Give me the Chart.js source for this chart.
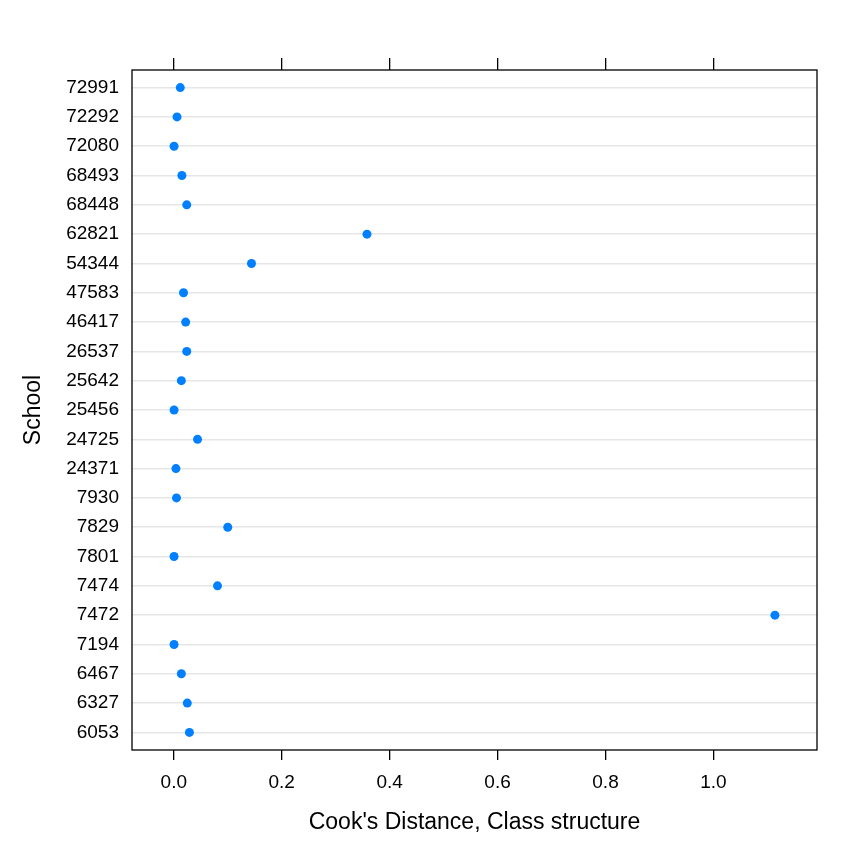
<!DOCTYPE html>
<html>
<head>
<meta charset="utf-8">
<script src="https://cdn.jsdelivr.net/npm/chart.js@4/dist/chart.umd.min.js"></script>
<style>
  html, body { margin: 0; padding: 0; background: #fff; }
  #wrap { width: 864px; height: 864px; }
</style>
</head>
<body>
<div id="wrap"><canvas id="chart"></canvas></div>
<script>
// schools listed bottom to top, as lattice stacks them
const schools = ['6053', '6327', '6467', '7194', '7472', '7474', '7801', '7829', '7930',
  '24371', '24725', '25456', '25642', '26537', '46417', '47583', '54344', '62821',
  '68448', '68493', '72080', '72292', '72991'];
const cooksD = [0.029, 0.025, 0.014, 0.0005, 1.114, 0.081, 0.0005, 0.100, 0.005,
  0.004, 0.044, 0.0005, 0.014, 0.024, 0.022, 0.018, 0.144, 0.358,
  0.024, 0.015, 0.0005, 0.006, 0.012];
const xTicks = [0, 0.2, 0.4, 0.6, 0.8, 1.0];

const FONT = "'Liberation Sans', Arial, Helvetica, sans-serif";

// lattice pads the data range by 7% each side
const lo = Math.min(...cooksD), hi = Math.max(...cooksD);
const xMin = lo - 0.07 * (hi - lo);
const xMax = hi + 0.07 * (hi - lo);

// --- frame around the panel ---
const framePlugin = {
  id: 'frame',
  afterDraw(chart) {
    const { ctx, chartArea: a } = chart;
    ctx.save();
    ctx.strokeStyle = '#000';
    ctx.lineWidth = 1.3;
    ctx.strokeRect(a.left, a.top, a.right - a.left, a.bottom - a.top);
    ctx.restore();
  }
};

const setXTicks = (scale) => { scale.ticks = xTicks.map(v => ({ value: v })); };

new Chart(document.getElementById('chart'), {
  type: 'scatter',
  data: {
    datasets: [{
      data: schools.map((s, i) => ({ x: cooksD[i], y: i + 1 })),
      backgroundColor: '#0080ff',
      borderColor: '#0080ff',
      pointRadius: 4.5,
      pointBorderWidth: 0,
      showLine: false
    }]
  },
  options: {
    responsive: true,
    maintainAspectRatio: false,
    animation: false,
    layout: { padding: { top: 58, right: 47, left: 0, bottom: 0 } },
    plugins: { legend: { display: false }, tooltip: { enabled: false } },
    scales: {
      x: {
        type: 'linear',
        position: 'bottom',
        min: xMin,
        max: xMax,
        afterBuildTicks: setXTicks,
        afterFit: (s) => { s.height = 114; },
        border: { display: false },
        grid: { drawOnChartArea: false, drawTicks: true, tickLength: 10, color: '#000', lineWidth: 1.3 },
        ticks: {
          color: '#000', padding: 11,
          font: { family: FONT, size: 19 },
          callback: (v) => v.toFixed(1)
        },
        title: {
          display: true, text: "Cook's Distance, Class structure", color: '#000',
          font: { family: FONT, size: 23 }, padding: { top: 0, bottom: 28 }
        }
      },
      x2: {
        type: 'linear',
        position: 'top',
        min: xMin,
        max: xMax,
        afterBuildTicks: setXTicks,
        afterFit: (s) => { s.height = 12; },
        border: { display: false },
        grid: { drawOnChartArea: false, drawTicks: true, tickLength: 12, color: '#000', lineWidth: 1.3 },
        ticks: { display: false }
      },
      y: {
        type: 'linear',
        position: 'left',
        min: 0.4,
        max: schools.length + 0.6,
        afterBuildTicks: (s) => { s.ticks = schools.map((_, i) => ({ value: i + 1 })); },
        afterFit: (s) => { s.width = 132; },
        border: { display: false },
        grid: { drawTicks: false, color: '#e6e6e6', lineWidth: 1.5 },
        ticks: {
          color: '#000', padding: 13,
          font: { family: FONT, size: 19 },
          callback: (v) => schools[v - 1]
        },
        title: {
          display: true, text: 'School', color: '#000',
          font: { family: FONT, size: 23 }, padding: { top: 20, bottom: 0 }
        }
      }
    }
  },
  plugins: [framePlugin]
});
</script>
</body>
</html>
